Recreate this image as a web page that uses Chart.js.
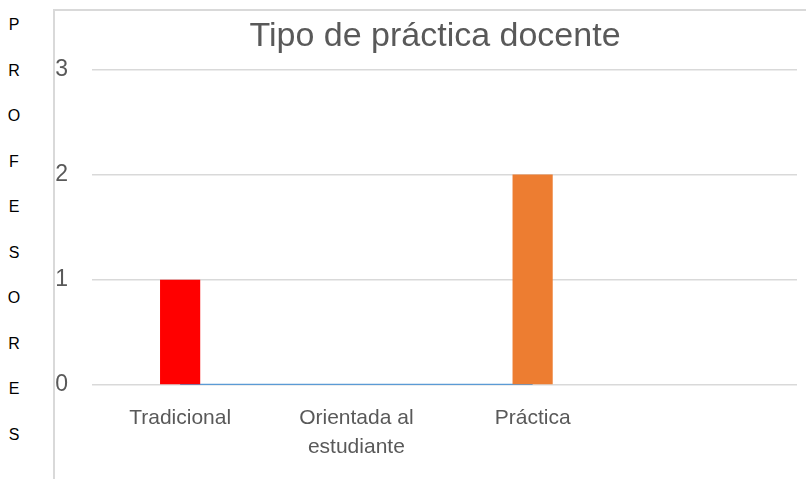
<!DOCTYPE html>
<html>
<head>
<meta charset="utf-8">
<script src="https://cdn.jsdelivr.net/npm/chart.js@4"></script>
<style>
  body { margin: 0; background: #fff; width: 806px; height: 479px; overflow: hidden; position: relative; font-family: "Liberation Sans", Arial, sans-serif; }
  #axisTitle { position: absolute; left: 0; top: 2px; width: 28px; text-align: center; font-size: 16px; line-height: 45.5px; color: #000; }
  #frame { position: absolute; left: 53px; top: 9px; width: 753px; height: 470px; border-left: 2px solid #d9d9d9; border-top: 2px solid #d9d9d9; }
  #frame canvas { display: block; }
</style>
</head>
<body>
<div id="axisTitle"></div>
<div id="frame"><canvas id="practicaChart" width="751" height="468"></canvas></div>
<script>
const chartTitle = 'Tipo de práctica docente';
const axisTitle = 'PROFESORES';
const categories = ['Tradicional', ['Orientada al', 'estudiante'], 'Práctica', ''];
const barValues = [1, 0, 2, null];
const barColors = ['#FF0000', '#5B9BD5', '#ED7D31', '#A5A5A5'];
const lineValues = [0, 0, 0, null];
const yTicks = [0, 1, 2, 3];

const gray = '#595959';

// letras del titulo del eje, una debajo de otra
document.getElementById('axisTitle').innerHTML =
    axisTitle.split('').map(l => '<div>' + l + '</div>').join('');

// el titulo en el original esta un poco mas a la derecha
const titleShift = {
    id: 'titleShift',
    afterLayout(chart) {
        if (chart.titleBlock) {
            chart.titleBlock.left += 9;
            chart.titleBlock.right += 9;
        }
    }
};

const ctx = document.getElementById('practicaChart');
new Chart(ctx, {
    type: 'bar',
    data: {
        labels: categories,
        datasets: [{
            type: 'bar',
            data: barValues,
            backgroundColor: barColors,
            categoryPercentage: 1,
            barPercentage: 0.228,
            order: 1
        }, {
            type: 'line',
            data: lineValues,
            borderColor: '#5B9BD5',
            borderWidth: 2.5,
            pointRadius: 0,
            fill: false,
            order: 2
        }]
    },
    options: {
        responsive: false,
        animation: false,
        layout: { padding: { top: 0, right: 9, bottom: 0, left: 0 } },
        plugins: {
            legend: { display: false },
            tooltip: { enabled: false },
            title: {
                display: true,
                text: chartTitle,
                color: gray,
                font: { family: 'Liberation Sans', size: 34, weight: 'normal' },
                padding: { top: 5, bottom: 12.6 }
            }
        },
        scales: {
            x: {
                grid: { display: false },
                border: { display: false },
                ticks: {
                    color: gray,
                    font: { family: 'Liberation Sans', size: 21, lineHeight: 1.38 },
                    padding: 11,
                    maxRotation: 0,
                    autoSkip: false
                },
                afterFit: scale => { scale.height = 94; }
            },
            y: {
                min: 0,
                max: 3,
                afterBuildTicks: scale => { scale.ticks = yTicks.map(v => ({ value: v })); },
                grid: { color: '#d9d9d9', lineWidth: 1.5, drawTicks: false },
                border: { display: false },
                ticks: {
                    color: gray,
                    font: { family: 'Liberation Sans', size: 23 },
                    padding: 24
                },
                afterFit: scale => { scale.width = 37; }
            }
        }
    },
    plugins: [titleShift]
});
</script>
</body>
</html>
